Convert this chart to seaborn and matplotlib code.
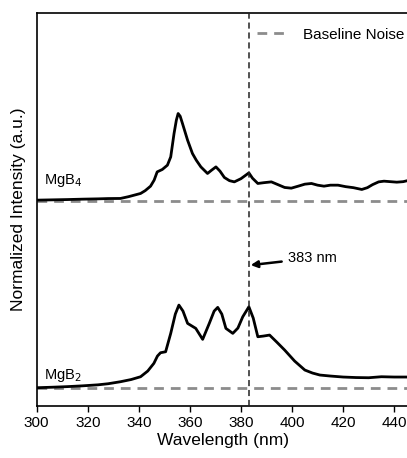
import matplotlib
matplotlib.use("Agg")
import matplotlib.pyplot as plt
import seaborn as sns
import pandas as pd

sns.set_theme(style="ticks")
plt.rcParams['font.family'] = ['Liberation Sans', 'DejaVu Sans']
plt.rcParams['text.color'] = 'black'
plt.rcParams['axes.labelcolor'] = 'black'
plt.rcParams['xtick.color'] = 'black'

# MgB4 spectrum (offset upward)
mgb4_wl = [300, 306, 312, 318, 324, 328, 332.8, 336, 340.7, 342.5, 344.6, 346, 347.2, 349.2, 351.2,
           352.5, 353.8, 354.7, 355.4, 356.2, 357.1, 359.1, 361, 362.5, 364.3, 366.9, 368.5, 370.2,
           371.8, 373.5, 375.5, 377.4, 380, 383.1, 384.5, 386.6, 389, 391.9, 394.5, 397.1, 399.7,
           402.4, 405, 407.6, 410, 412.5, 415, 418, 421, 424, 427.3, 429.5, 431.5, 433.9, 436,
           438.5, 441, 443.5, 446]
mgb4_int = [206, 206.3, 206.6, 207, 207.3, 207.6, 207.7, 209.5, 212.7, 215.5, 220, 226, 234.3, 236.7,
            241, 249.3, 272.7, 286, 292.7, 290, 282.7, 266, 252.7, 246, 239.3, 232.7, 236, 239.3,
            235, 228.7, 225.5, 224.3, 227.5, 233.3, 228, 222.7, 223.5, 224.3, 221.5, 218.7, 218,
            220, 222, 222.7, 221, 220, 221, 221, 219.5, 218.5, 216.7, 218.5, 221.5, 224.3, 225,
            224.5, 224, 224.5, 226]

# MgB2 spectrum
mgb2_wl = [300, 306, 312, 318, 324, 328, 332.8, 337, 340.7, 343.5, 345.9, 347.3, 348.5, 350.5, 352.5,
           354.3, 355.7, 357.3, 359.1, 362.3, 365, 367.6, 369.5, 370.9, 372.5, 374.1, 376.8, 378.8,
           380.7, 383.1, 384.8, 386.6, 388.8, 391.2, 394, 397.1, 401, 405, 408, 410.9, 415, 420,
           425, 430, 435, 440, 446]
mgb2_int = [18.3, 18.8, 19.4, 20.2, 21.2, 22.3, 24.3, 26.5, 29.3, 35, 42.7, 50, 53.3, 54.3, 72.7,
            92, 101, 95, 82.7, 77.7, 66.7, 82.7, 95, 98.7, 92, 77.7, 72.7, 78, 89.3, 99.3, 88,
            69.3, 70, 71, 64, 56, 45, 36, 33, 31, 30, 29, 28.5, 28.3, 29.3, 29, 29]

# Baseline noise levels
noise_wl = [300, 446]
noise_mgb4 = [205.5, 205.5]
noise_mgb2 = [18.0, 18.0]

marker_wl = 383
labels = ["MgB$_4$", "MgB$_2$"]

fig = plt.figure(figsize=(4.07, 4.58), dpi=100)
ax = fig.add_axes([0.090, 0.1135, 0.915, 0.8575])

df4 = pd.DataFrame({"wl": mgb4_wl, "y": mgb4_int})
df2 = pd.DataFrame({"wl": mgb2_wl, "y": mgb2_int})
dn4 = pd.DataFrame({"wl": noise_wl, "y": noise_mgb4})
dn2 = pd.DataFrame({"wl": noise_wl, "y": noise_mgb2})

sns.lineplot(data=dn4, x="wl", y="y", ax=ax, color="#8c8c8c", lw=2.0,
             linestyle=(0, (3.5, 2.5)), label="Baseline Noise", zorder=2)
sns.lineplot(data=dn2, x="wl", y="y", ax=ax, color="#8c8c8c", lw=2.0,
             linestyle=(0, (3.5, 2.5)), zorder=2, legend=False)
sns.lineplot(data=df4, x="wl", y="y", ax=ax, color="black", lw=2.0, zorder=3, legend=False)
sns.lineplot(data=df2, x="wl", y="y", ax=ax, color="black", lw=2.0, zorder=3, legend=False)

ax.axvline(marker_wl, color="#222222", lw=1.1, linestyle=(0, (4, 2.5)), zorder=4)

ax.text(303, 222, labels[0], fontsize=10.5, color="black")
ax.text(303, 27, labels[1], fontsize=10.5, color="black")

ax.annotate("383 nm", xy=(383.8, 141), xytext=(398.3, 148), fontsize=10.5,
            va="center", ha="left",
            arrowprops=dict(arrowstyle="-|>", color="black", lw=1.8, mutation_scale=10,
                            shrinkA=2, shrinkB=0))

ax.set_xlim(300, 445.8)
ax.set_ylim(0, 393)
ax.set_xticks([300, 320, 340, 360, 380, 400, 420, 440])
ax.set_yticks([])
ax.set_xlabel("Wavelength (nm)", fontsize=12.5, labelpad=2)
ax.set_ylabel("Normalized Intensity (a.u.)", fontsize=12.5, labelpad=8)
ax.tick_params(axis="x", direction="out", length=4, width=1, labelsize=11, pad=3)
for s in ["left", "bottom", "top"]:
    ax.spines[s].set_linewidth(1.2)
    ax.spines[s].set_color("black")
ax.spines["right"].set_visible(False)

leg = ax.legend(loc="upper right", frameon=False, fontsize=11, handlelength=2.0,
                handletextpad=1.0, bbox_to_anchor=(1.012, 0.987), borderaxespad=0.2)

fig.savefig("out.png", dpi=100)
